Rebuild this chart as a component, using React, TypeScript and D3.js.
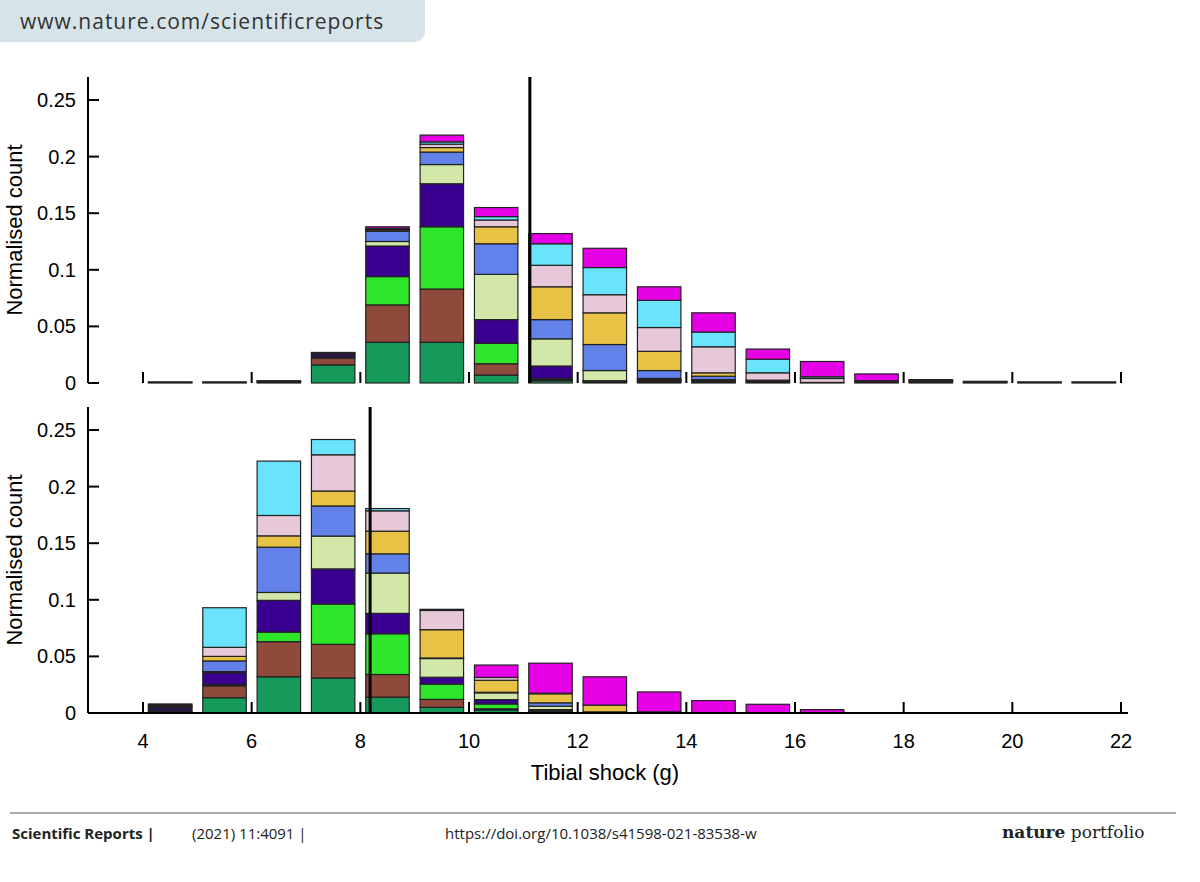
import * as d3 from 'd3';

const colors = ['#169a5c', '#8f4a3c', '#2ee62a', '#3a0090', '#d2e8a8', '#6282ea', '#e8c244', '#e6c8d8', '#6ae4fc', '#e600e6'];
const bins = [4, 5, 6, 7, 8, 9, 10, 11, 12, 13, 14, 15, 16, 17, 18, 19, 20, 21];
const yTicks = [0, 0.05, 0.1, 0.15, 0.2, 0.25];
const xTicks = [4, 6, 8, 10, 12, 14, 16, 18, 20, 22];

// stacked segments per bin, bottom to top in colour order
const topData = [
  [0.0005, 0, 0, 0.0005, 0, 0, 0, 0, 0, 0],
  [0.0005, 0, 0, 0.0005, 0, 0, 0, 0, 0, 0],
  [0.001, 0.0005, 0, 0.0005, 0, 0, 0, 0, 0, 0],
  [0.016, 0.006, 0.001, 0.002, 0.0005, 0.001, 0, 0, 0, 0.0005],
  [0.036, 0.033, 0.025, 0.027, 0.004, 0.009, 0.001, 0.001, 0.0005, 0.0015],
  [0.036, 0.047, 0.055, 0.038, 0.017, 0.011, 0.004, 0.003, 0.002, 0.006],
  [0.007, 0.010, 0.018, 0.021, 0.040, 0.027, 0.015, 0.006, 0.003, 0.008],
  [0.002, 0.001, 0.001, 0.011, 0.024, 0.017, 0.029, 0.019, 0.019, 0.009],
  [0.001, 0.0005, 0.0003, 0.0002, 0.009, 0.023, 0.028, 0.016, 0.024, 0.017],
  [0.001, 0.001, 0.0005, 0.0005, 0.001, 0.007, 0.017, 0.021, 0.024, 0.012],
  [0.001, 0.0005, 0.0005, 0.0005, 0.0005, 0.003, 0.003, 0.023, 0.013, 0.017],
  [0, 0.001, 0, 0.001, 0, 0, 0.0005, 0.0065, 0.012, 0.009],
  [0, 0, 0, 0.0005, 0, 0, 0, 0.0035, 0.0015, 0.0135],
  [0, 0, 0, 0.001, 0, 0.001, 0, 0, 0, 0.006],
  [0, 0, 0, 0.001, 0, 0.001, 0, 0.0005, 0, 0.0005],
  [0, 0, 0, 0.0005, 0, 0.0005, 0, 0, 0, 0.0005],
  [0, 0, 0, 0.0005, 0, 0, 0, 0, 0, 0.0005],
  [0, 0, 0, 0.0005, 0, 0, 0, 0, 0, 0.0005],
];
const bottomData = [
  [0.001, 0.001, 0.0005, 0.002, 0.001, 0.001, 0.0005, 0.001, 0, 0],
  [0.0135, 0.0105, 0.001, 0.0106, 0.001, 0.0094, 0.004, 0.008, 0.035, 0],
  [0.032, 0.031, 0.0085, 0.028, 0.007, 0.040, 0.010, 0.018, 0.048, 0],
  [0.031, 0.0297, 0.0356, 0.031, 0.029, 0.0266, 0.0132, 0.032, 0.0135, 0],
  [0.014, 0.020, 0.036, 0.018, 0.0356, 0.017, 0.020, 0.018, 0.002, 0],
  [0.005, 0.007, 0.0136, 0.006, 0.0165, 0.0005, 0.025, 0.017, 0.001, 0],
  [0.0027, 0.001, 0.0043, 0.0038, 0.006, 0.0005, 0.0106, 0.0025, 0, 0.011],
  [0.001, 0.0005, 0.0005, 0.001, 0.003, 0.003, 0.008, 0.0005, 0, 0.0265],
  [0, 0, 0, 0, 0.001, 0, 0.006, 0, 0, 0.025],
  [0, 0, 0, 0.001, 0, 0, 0, 0, 0, 0.0176],
  [0, 0, 0, 0, 0, 0, 0, 0, 0, 0.011],
  [0, 0, 0, 0, 0, 0, 0, 0, 0, 0.0077],
  [0, 0, 0, 0, 0, 0, 0, 0, 0, 0.003],
  [0, 0, 0, 0, 0, 0, 0, 0, 0, 0],
  [0, 0, 0, 0, 0, 0, 0, 0, 0, 0],
  [0, 0, 0, 0, 0, 0, 0, 0, 0, 0],
  [0, 0, 0, 0, 0, 0, 0, 0, 0, 0],
  [0, 0, 0, 0, 0, 0, 0, 0, 0, 0],
];
const topThreshold = 11.12;
const bottomThreshold = 8.18;

const x = d3.scaleLinear().domain([4, 22]).range([143, 1121]);
const font = 'Arial, "Liberation Sans", sans-serif';

function Panel({ data, top, threshold, showX }: { data: number[][]; top: number; threshold: number; showX: boolean }) {
  const base = top + 306;
  const y = d3.scaleLinear().domain([0, 0.25]).range([base, base - 283]);
  return (
    <g>
      <line x1={88} x2={88} y1={top} y2={base} stroke="#000" strokeWidth={2} />
      {yTicks.map(t => (
        <g key={t}>
          <line x1={88} x2={99} y1={y(t)} y2={y(t)} stroke="#000" strokeWidth={2} />
          <text x={76} y={y(t)} dy="0.35em" textAnchor="end" fontSize={20} fontFamily={font}>{t}</text>
        </g>
      ))}
      <text transform={`translate(22,${(top + base) / 2}) rotate(-90)`} textAnchor="middle" fontSize={22} fontFamily={font}>Normalised count</text>
      {bins.map((b, i) => {
        const stack = d3.cumsum(data[i]);
        return data[i].map((v, k) => v <= 0 ? null : (
          <rect key={`${b}-${k}`} x={x(b + 0.1)} width={x(b + 0.9) - x(b + 0.1)}
            y={y(stack[k])} height={y(stack[k] - v) - y(stack[k])}
            fill={colors[k]} stroke="#222" strokeWidth={1.2} />
        ));
      })}
      {xTicks.map(t => (
        <line key={t} x1={x(t)} x2={x(t)} y1={base} y2={base - 11} stroke="#000" strokeWidth={2} />
      ))}
      {showX && <line x1={88} x2={1128} y1={base} y2={base} stroke="#000" strokeWidth={2} />}
      {showX && xTicks.map(t => (
        <text key={t} x={x(t)} y={base + 35} textAnchor="middle" fontSize={20} fontFamily={font}>{t}</text>
      ))}
      <line x1={x(threshold)} x2={x(threshold)} y1={top} y2={base} stroke="#000" strokeWidth={3} />
    </g>
  );
}

export default function App() {
  return (
    <svg width={1200} height={882} style={{ position: 'absolute', left: 0, top: 0, background: '#fff' }}>
      <path d="M0,0 H425 V30 Q425,42 413,42 H0 Z" fill="#d6e3e8" />
      <text x={20} y={29} fontSize={21} fontFamily='"Open Sans", sans-serif' letterSpacing={1} fill="#333">www.nature.com/scientificreports</text>
      <Panel data={topData} top={77} threshold={topThreshold} showX={false} />
      <Panel data={bottomData} top={407} threshold={bottomThreshold} showX={true} />
      <text x={605} y={780} textAnchor="middle" fontSize={22} fontFamily={font}>Tibial shock (g)</text>
      <line x1={10} x2={1176} y1={813} y2={813} stroke="#555" strokeWidth={1} />
      <text x={12} y={839} fontSize={15} fontWeight="bold" fontFamily='"Open Sans", sans-serif' fill="#222">Scientific Reports |</text>
      <text x={192} y={839} fontSize={15} fontFamily='"Open Sans", sans-serif' fill="#222">(2021) 11:4091  |</text>
      <text x={445} y={839} fontSize={15} fontFamily='"Open Sans", sans-serif' fill="#222">https://doi.org/10.1038/s41598-021-83538-w</text>
      <text x={1002} y={838} fontSize={17} fontFamily='"DejaVu Serif", serif' fill="#222"><tspan fontWeight="bold">nature</tspan> portfolio</text>
    </svg>
  );
}
